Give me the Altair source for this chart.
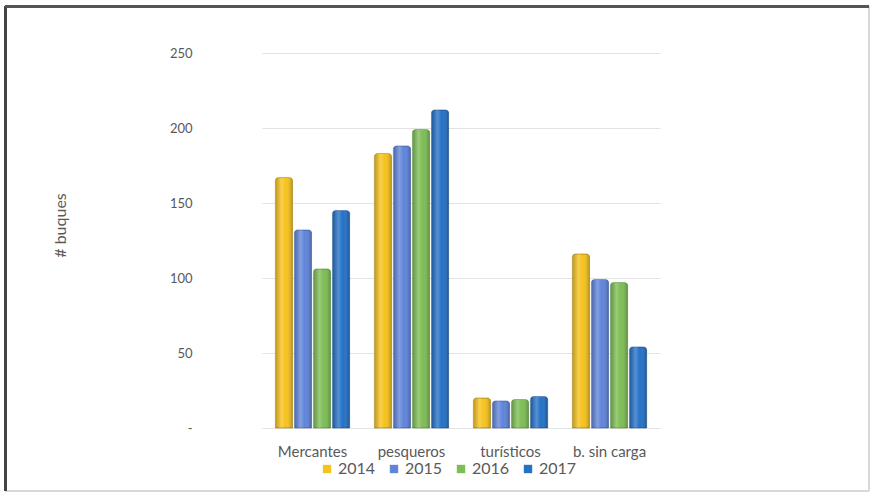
import altair as alt
import pandas as pd

categories = ["Mercantes", "pesqueros", "turísticos", "b. sin carga"]
years = ["2014", "2015", "2016", "2017"]
values_2014 = [167, 183, 20, 116]
values_2015 = [132, 188, 18, 99]
values_2016 = [106, 199, 19, 97]
values_2017 = [145, 212, 21, 54]
colors = ["#F6C21C", "#5F84DA", "#7DBD55", "#2471C6"]
edge_colors = ["#a88200", "#3a5aa8", "#4f8a30", "#154f90"]

series = [values_2014, values_2015, values_2016, values_2017]
rows = []
for year, vals in zip(years, series):
    for cat, v in zip(categories, vals):
        rows.append({"categoria": cat, "anio": year, "buques": v})
df = pd.DataFrame(rows)

FONT = "Lato"
GREY = "#595959"
W, H = 398, 375
LEFT, TOP = 262, 53

x_enc = alt.X(
    "categoria:N",
    sort=categories,
    scale=alt.Scale(paddingInner=0.25, paddingOuter=0.135),
    axis=alt.Axis(
        title=None, labelAngle=0, domain=False, ticks=False, grid=False,
        labelPadding=16, labelFontSize=15, labelColor=GREY, labelFont=FONT,
    ),
)
y_enc = alt.Y(
    "buques:Q",
    scale=alt.Scale(domain=[0, 250], nice=False),
    axis=alt.Axis(
        values=[0, 50, 100, 150, 200, 250],
        labelExpr="datum.value == 0 ? '-' : datum.label",
        domain=False, ticks=False, labelPadding=70,
        labelFontSize=13, labelColor=GREY, labelFont=FONT,
        gridColor="#e3e3e3", gridWidth=1,
        title="# buques", titleFont=FONT, titleFontSize=16,
        titleFontWeight="normal", titleColor=GREY,
        titleX=-194, titleY=172, titleAngle=-90,
    ),
)
xoff = alt.XOffset("anio:N", sort=years, scale=alt.Scale(paddingInner=0.1))

bars = alt.Chart(df).mark_bar(
    strokeWidth=1, strokeOpacity=0.55, cornerRadiusTopLeft=3, cornerRadiusTopRight=3
).encode(
    x=x_enc,
    y=y_enc,
    xOffset=xoff,
    color=alt.Color(
        "anio:N",
        sort=years,
        scale=alt.Scale(domain=years, range=colors),
        legend=alt.Legend(
            title=None, orient="none", direction="horizontal",
            legendX=57, legendY=408, symbolType="square", symbolSize=70,
            symbolStrokeWidth=0, labelFontSize=16, labelColor=GREY,
            labelFont=FONT, columnPadding=10, labelOffset=3,
        ),
    ),
    stroke=alt.Stroke(
        "anio:N", sort=years,
        scale=alt.Scale(domain=years, range=edge_colors),
        legend=None,
    ),
)

# cylindrical shading laid over each column
shine = alt.Gradient(
    gradient="linear", x1=0, x2=1, y1=0, y2=0,
    stops=[
        alt.GradientStop(color="rgba(0,0,0,0.22)", offset=0),
        alt.GradientStop(color="rgba(255,255,255,0.22)", offset=0.35),
        alt.GradientStop(color="rgba(255,255,255,0.0)", offset=0.6),
        alt.GradientStop(color="rgba(0,0,0,0.25)", offset=1),
    ],
)
shade = alt.Chart(df).mark_bar(
    fill=shine, cornerRadiusTopLeft=3, cornerRadiusTopRight=3
).encode(
    x=alt.X("categoria:N", sort=categories),
    y=alt.Y("buques:Q"),
    xOffset=xoff,
)

frame = alt.Chart(df).mark_rect(
    fill=None, stroke="#d8d8d8", strokeWidth=1, clip=False
).encode(
    x=alt.value(5 - LEFT), x2=alt.value(869 - LEFT),
    y=alt.value(6 - TOP), y2=alt.value(491 - TOP),
)
frame_left = alt.Chart(df).mark_rule(color="#444444", strokeWidth=1.5, clip=False).encode(
    x=alt.value(5.5 - LEFT), y=alt.value(6 - TOP), y2=alt.value(491 - TOP),
)
frame_top = alt.Chart(df).mark_rule(color="#555555", strokeWidth=1.5, clip=False).encode(
    x=alt.value(5 - LEFT), x2=alt.value(869 - LEFT), y=alt.value(6.5 - TOP),
)

chart = alt.layer(bars, shade, frame, frame_left, frame_top).properties(
    width=W, height=H,
    background="white",
    autosize=alt.AutoSizeParams(type="none"),
    padding={"left": LEFT, "top": TOP, "right": 872 - LEFT - W, "bottom": 498 - TOP - H},
).configure_view(stroke="transparent", strokeWidth=0)

chart.save("out.html", embed_options={"renderer": "svg", "actions": False})
